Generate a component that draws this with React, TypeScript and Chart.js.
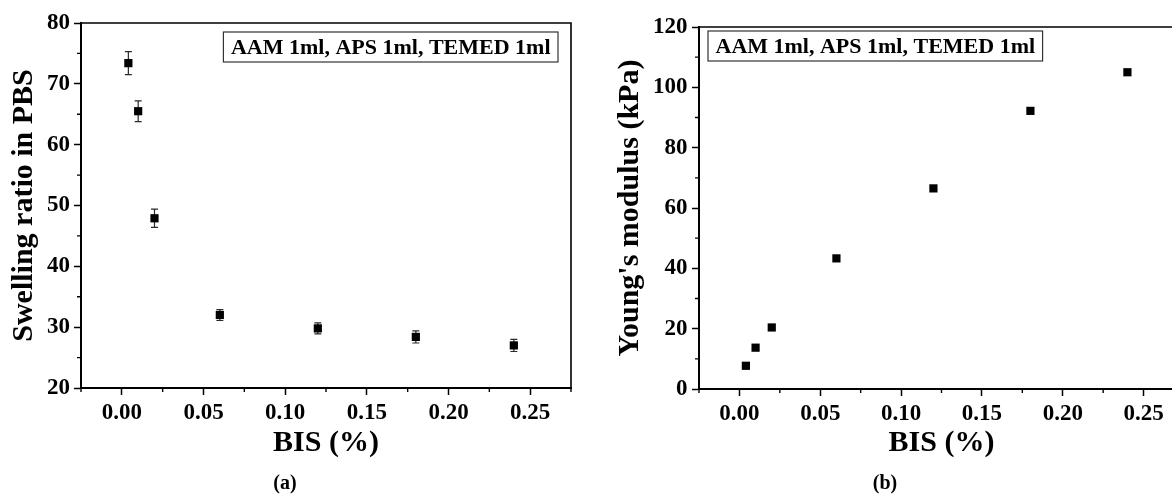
import React, { useEffect, useRef } from "react";
import { Chart, registerables } from "chart.js";

Chart.register(...registerables);

// ---------- data ----------
const bisPercent = [0.004, 0.01, 0.02, 0.06, 0.12, 0.18, 0.24];
const swellingRatio = [73.4, 65.5, 47.9, 32.0, 29.8, 28.4, 27.0];
const swellingError = [1.9, 1.7, 1.5, 0.9, 0.9, 1.0, 1.0];
const youngsModulus = [7.7, 13.7, 20.4, 43.3, 66.5, 92.2, 105.0];

const xMajorTicks = [0, 0.05, 0.1, 0.15, 0.2, 0.25];
const xMinorTicks = [-0.025, 0.025, 0.075, 0.125, 0.175, 0.225, 0.275];
const swellingMajorTicks = [20, 30, 40, 50, 60, 70, 80];
const swellingMinorTicks = [25, 35, 45, 55, 65, 75];
const modulusMajorTicks = [0, 20, 40, 60, 80, 100, 120];
const modulusMinorTicks = [10, 30, 50, 70, 90, 110];

const legendText = "AAM 1ml, APS 1ml, TEMED 1ml";
const xTitle = "BIS (%)";
const swellingTitle = "Swelling ratio in PBS";
const modulusTitle = "Young's modulus (kPa)";
const panelLabels = ["(a)", "(b)"];

const FAMILY = "'Liberation Serif', 'Times New Roman', serif";

type PanelCfg = {
  values: number[];
  errors?: number[];
  yMin: number;
  yMax: number;
  yMajor: number[];
  yMinor: number[];
  yTitle: string;
  yAxisWidth: number;
  yTitlePad: number;
  yTickPad: number;
  padTop: number;
  padRight: number;
  xAxisHeight: number;
  legendSide: "left" | "right";
  legendDx: number;
  legendDy: number;
};

function makeDecorPlugin(cfg: PanelCfg) {
  return {
    id: "decor",
    beforeDatasetsDraw(chart: any) {
      if (!cfg.errors) return;
      const xs = chart.scales.x;
      const ys = chart.scales.y;
      const ctx = chart.ctx;
      ctx.save();
      ctx.strokeStyle = "#2a2a2a";
      ctx.lineWidth = 1.2;
      cfg.values.forEach((v, i) => {
        const e = cfg.errors![i];
        const x = xs.getPixelForValue(bisPercent[i]);
        const y1 = ys.getPixelForValue(v + e);
        const y2 = ys.getPixelForValue(v - e);
        ctx.beginPath();
        ctx.moveTo(x, y1);
        ctx.lineTo(x, y2);
        ctx.moveTo(x - 3.5, y1);
        ctx.lineTo(x + 3.5, y1);
        ctx.moveTo(x - 3.5, y2);
        ctx.lineTo(x + 3.5, y2);
        ctx.stroke();
      });
      ctx.restore();
    },
    afterDraw(chart: any) {
      const ctx = chart.ctx;
      const a = chart.chartArea;
      const xs = chart.scales.x;
      const ys = chart.scales.y;
      ctx.save();
      // frame top / right
      ctx.strokeStyle = "#000";
      ctx.lineWidth = 1.6;
      ctx.beginPath();
      ctx.moveTo(a.left, a.top);
      ctx.lineTo(a.right, a.top);
      ctx.lineTo(a.right, a.bottom);
      ctx.stroke();
      // minor ticks
      ctx.lineWidth = 1.4;
      ctx.beginPath();
      xMinorTicks.forEach((v) => {
        const x = xs.getPixelForValue(v);
        ctx.moveTo(x, a.bottom);
        ctx.lineTo(x, a.bottom + 4);
      });
      cfg.yMinor.forEach((v) => {
        const y = ys.getPixelForValue(v);
        ctx.moveTo(a.left, y);
        ctx.lineTo(a.left - 4, y);
      });
      ctx.stroke();
      // legend box
      ctx.font = `bold 22px ${FAMILY}`;
      const tw = ctx.measureText(legendText).width;
      const pad = 7.5;
      const w = tw + 2 * pad;
      const h = 30;
      const left = cfg.legendSide === "right" ? a.right - cfg.legendDx - w : a.left + cfg.legendDx;
      const top = a.top + cfg.legendDy;
      ctx.fillStyle = "#fff";
      ctx.fillRect(left, top, w, h);
      ctx.strokeStyle = "#333";
      ctx.lineWidth = 1.2;
      ctx.strokeRect(left, top, w, h);
      ctx.fillStyle = "#000";
      ctx.textBaseline = "middle";
      ctx.textAlign = "left";
      ctx.fillText(legendText, left + pad, top + h / 2 + 1);
      ctx.restore();
    },
  };
}

function buildConfig(cfg: PanelCfg): any {
  return {
    type: "scatter",
    data: {
      datasets: [
        {
          data: bisPercent.map((x, i) => ({ x, y: cfg.values[i] })),
          pointStyle: "rect",
          pointRadius: 5.8,
          pointHoverRadius: 5.8,
          pointBorderWidth: 0,
          backgroundColor: "#000",
          borderColor: "#000",
          showLine: false,
        },
      ],
    },
    options: {
      responsive: false,
      animation: false,
      devicePixelRatio: 1,
      events: [],
      layout: { padding: { left: 0, top: cfg.padTop, right: cfg.padRight, bottom: 0 } },
      plugins: { legend: { display: false }, tooltip: { enabled: false } },
      scales: {
        x: {
          type: "linear",
          position: "bottom",
          min: -0.025,
          max: 0.275,
          afterBuildTicks: (s: any) => {
            s.ticks = xMajorTicks.map((v) => ({ value: v }));
          },
          afterFit: (s: any) => {
            s.height = cfg.xAxisHeight;
          },
          ticks: {
            autoSkip: false,
            maxRotation: 0,
            padding: 4,
            color: "#000",
            font: { family: FAMILY, size: 23, weight: "bold" },
            callback: (v: any) => Number(v).toFixed(2),
          },
          grid: {
            display: true,
            drawOnChartArea: false,
            drawTicks: true,
            tickLength: 7,
            tickColor: "#000",
            tickWidth: 1.5,
          },
          border: { display: true, color: "#000", width: 2 },
          title: {
            display: true,
            text: xTitle,
            color: "#000",
            font: { family: FAMILY, size: 30, weight: "bold" },
            padding: { top: 0, bottom: 34 },
          },
        },
        y: {
          type: "linear",
          position: "left",
          min: cfg.yMin,
          max: cfg.yMax,
          afterBuildTicks: (s: any) => {
            s.ticks = cfg.yMajor.map((v) => ({ value: v }));
          },
          afterFit: (s: any) => {
            s.width = cfg.yAxisWidth;
          },
          ticks: {
            autoSkip: false,
            padding: cfg.yTickPad,
            color: "#000",
            font: { family: FAMILY, size: 23, weight: "bold" },
            callback: (v: any) => String(Math.round(Number(v))),
          },
          grid: {
            display: true,
            drawOnChartArea: false,
            drawTicks: true,
            tickLength: 7,
            tickColor: "#000",
            tickWidth: 1.5,
          },
          border: { display: true, color: "#000", width: 2 },
          title: {
            display: true,
            text: cfg.yTitle,
            color: "#000",
            font: { family: FAMILY, size: 30, weight: "bold" },
            padding: { top: cfg.yTitlePad, bottom: 0 },
          },
        },
      },
    },
    plugins: [makeDecorPlugin(cfg)],
  };
}

const leftCfg: PanelCfg = {
  values: swellingRatio,
  errors: swellingError,
  yMin: 20,
  yMax: 80,
  yMajor: swellingMajorTicks,
  yMinor: swellingMinorTicks,
  yTitle: swellingTitle,
  yAxisWidth: 81,
  yTitlePad: 6,
  yTickPad: 4,
  padTop: 23,
  padRight: 19,
  xAxisHeight: 107,
  legendSide: "right",
  legendDx: 13,
  legendDy: 9,
};

const rightCfg: PanelCfg = {
  values: youngsModulus,
  yMin: 0,
  yMax: 120,
  yMajor: modulusMajorTicks,
  yMinor: modulusMinorTicks,
  yTitle: modulusTitle,
  yAxisWidth: 99,
  yTitlePad: 12.5,
  yTickPad: 4.5,
  padTop: 27,
  padRight: 16,
  xAxisHeight: 106,
  legendSide: "left",
  legendDx: 9,
  legendDy: 4,
};

function Panel({ cfg, left, width }: { cfg: PanelCfg; left: number; width: number }) {
  const ref = useRef<HTMLCanvasElement | null>(null);
  useEffect(() => {
    if (!ref.current) return;
    const chart = new Chart(ref.current, buildConfig(cfg));
    return () => chart.destroy();
  }, [cfg]);
  return (
    <canvas
      ref={ref}
      width={width}
      height={495}
      style={{ position: "absolute", left, top: 0, width, height: 495 }}
    />
  );
}

export default function App() {
  const labelStyle = (cx: number): React.CSSProperties => ({
    position: "absolute",
    left: cx - 40,
    width: 80,
    top: 472,
    height: 20,
    lineHeight: "20px",
    textAlign: "center",
    fontFamily: FAMILY,
    fontWeight: "bold",
    fontSize: 20,
    color: "#000",
  });
  return (
    <div
      style={{
        position: "fixed",
        left: 0,
        top: 0,
        width: 1172,
        height: 495,
        overflow: "hidden",
        background: "#fff",
      }}
    >
      <Panel cfg={leftCfg} left={0} width={590} />
      <Panel cfg={rightCfg} left={600} width={600} />
      <div style={labelStyle(285)}>{panelLabels[0]}</div>
      <div style={labelStyle(885)}>{panelLabels[1]}</div>
    </div>
  );
}
